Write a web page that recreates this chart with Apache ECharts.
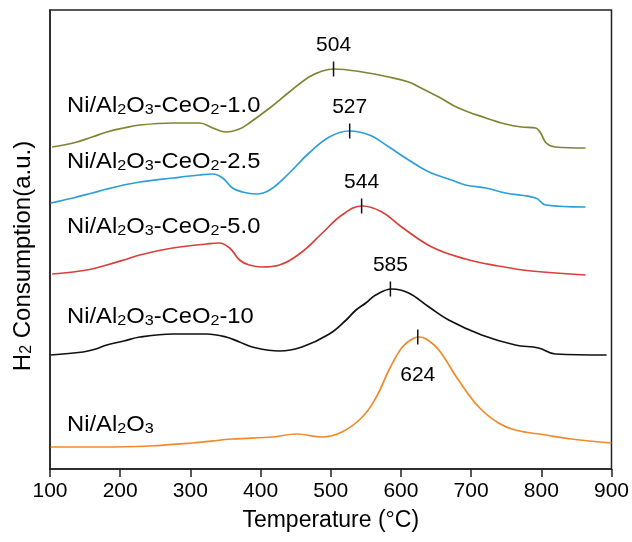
<!DOCTYPE html>
<html><head><meta charset="utf-8">
<script src="https://cdn.jsdelivr.net/npm/echarts@6/dist/echarts.min.js"></script>
<style>html,body{margin:0;padding:0;background:#fff}#c{width:632px;height:542px}</style>
</head><body><div id="c"></div>
<script>
// Temperatures (°C) and signal (a.u.)
const olive = [[103,322],[133,326],[160,332],[181,337],[205,341],[228,344],[275,346],[313,346],[332,341],[351,337],[370,340],[384,346],[413,361],[441,377],[469,392],[488,398],[505,400],[545,397],[583,392],[611,387],[626,382],[654,372],[682,361],[721,351],[749,345],[772,342],[792,341],[799,336],[807,326],[820,322],[863,321]];
const blue = [[101,266],[133,271],[160,276],[181,280],[205,284],[228,287],[275,291],[313,294],[332,295],[346,291],[360,281],[374,277],[394,275],[413,279],[441,296],[469,316],[498,332],[526,338],[555,334],[583,322],[611,309],[640,297],[672,289],[692,284],[721,281],[749,276],[792,271],[806,264],[863,262]];
const red = [[103,195],[133,197],[160,200],[181,204],[205,209],[228,214],[275,221],[323,225],[341,226],[356,221],[370,209],[384,204],[402,202],[427,204],[459,217],[488,236],[516,254],[545,263],[573,257],[601,242],[644,222],[692,210],[739,203],[786,198],[863,194]];
const black = [[101,114],[147,117],[165,120],[181,124],[205,128],[228,132],[275,135],[323,135],[351,132],[370,127],[388,122],[427,118],[459,122],[498,135],[522,149],[536,159],[550,166],[564,174],[587,180],[611,176],[640,162],[668,149],[715,134],[763,124],[796,121],[820,115],[893,114]];
const orange = [[101,22],[171,22],[242,23],[303,26],[360,30],[417,32],[451,35],[488,32],[516,37],[545,52],[565,72],[583,99],[601,121],[616,130],[626,132],[636,130],[654,119],[682,89],[711,62],[739,46],[763,39],[806,34],[843,30],[900,26]];
const sampleNames = ['Ni/Al2O3-CeO2-1.0','Ni/Al2O3-CeO2-2.5','Ni/Al2O3-CeO2-5.0','Ni/Al2O3-CeO2-10','Ni/Al2O3'];
const peakTemps = [504, 527, 544, 585, 624];
const peakLevels = [400, 338, 263, 180, 132];
const xTicks = [100, 200, 300, 400, 500, 600, 700, 800, 900];

const colors = ['#7d8534', '#2c9ed8', '#d8413a', '#111111', '#ef8a2a'];
const curves = [olive, blue, red, black, orange];
const FONT = 'Liberation Sans, Arial, sans-serif';
function richStyle(big, small){
  return {
    n: {fontSize: big, fontFamily: FONT, color: '#000', verticalAlign: 'bottom', lineHeight: big+4},
    s: {fontSize: small, fontFamily: FONT, color: '#000', verticalAlign: 'bottom', lineHeight: small+7}
  };
}
function richName(t){
  return t.split(/(?<=[A-Za-z])(\d)/).map((p,i)=> i%2 ? '{s|'+p+'}' : (p ? '{n|'+p+'}' : '')).join('');
}
const labelY = [104, 160, 225, 315, 423];

const chart = echarts.init(document.getElementById('c'));
const series = curves.map((d,i)=>({
  type:'line', name: sampleNames[i], data: d, showSymbol:false, smooth:0.4,
  lineStyle:{color: colors[i], width:1.7}, itemStyle:{color: colors[i]}, z: 2
}));
series.push({
  type:'scatter', symbol:'rect', symbolSize:[1.5,15], itemStyle:{color:'#111', opacity:1}, z:5,
  data: peakTemps.map((t,i)=>({value:[t, peakLevels[i]],
    label:{show:true, position: i===4?'bottom':'top', distance: i===4?20:6, opacity:1,
      formatter: String(t), fontSize:21, fontFamily: FONT, color:'#000'}}))
});
chart.setOption({
  animation:false,
  grid:{left:50, right:19, top:10, bottom:73, show:true, borderColor:'#222', borderWidth:1.5},
  xAxis:{type:'value', min:100, max:900, interval:100,
    name:'Temperature (°C)', nameLocation:'middle', nameGap:40,
    nameTextStyle:{fontSize:23, fontFamily:FONT, color:'#000'},
    axisLine:{lineStyle:{color:'#222', width:1.5}},
    axisTick:{show:true, length:8, lineStyle:{color:'#222', width:1.5}},
    axisLabel:{fontSize:21, fontFamily:FONT, color:'#000', margin:12,
      customValues: xTicks},
    splitLine:{show:false}},
  yAxis:{type:'value', min:0, max:459, axisLine:{show:true, lineStyle:{color:'#222', width:1.5}},
    axisTick:{show:false}, axisLabel:{show:false}, splitLine:{show:false}},
  series: series,
  graphic: sampleNames.map((n,i)=>({type:'text', x:67, y: labelY[i], z:10, scaleX:1.08,
      style:{text: richName(n), rich: richStyle(22,15), verticalAlign:'middle'}}))
    .concat([{type:'text', x:21, y:256, rotation: Math.PI/2, z:10,
      style:{text:'{n|H}{s|2}{n| Consumption(a.u.)}', rich: richStyle(24,16), align:'center', verticalAlign:'middle'}}])
});
</script></body></html>
